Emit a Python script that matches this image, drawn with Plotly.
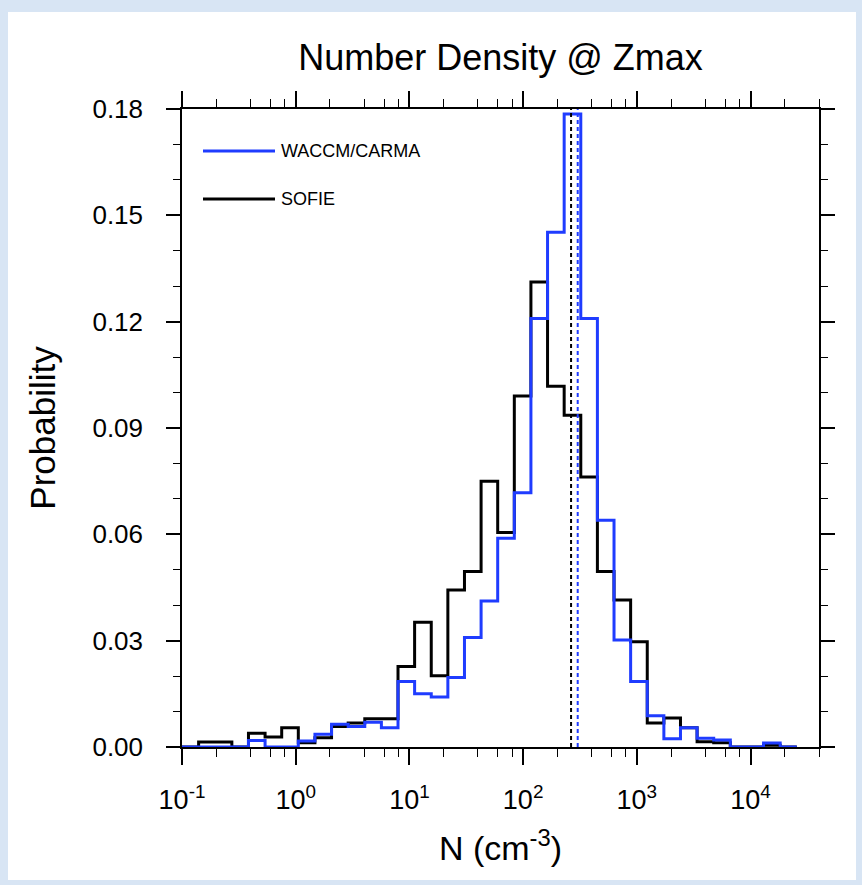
import plotly.graph_objects as go

# ---- data ----
bin_edges = [0.1, 0.14, 0.196, 0.2744, 0.3842, 0.5378, 0.753, 1.054, 1.476, 2.066,
             2.893, 4.05, 5.669, 7.937, 11.11, 15.56, 21.78, 30.49, 42.69, 59.76,
             83.67, 117.1, 164.0, 229.6, 321.4, 450.0, 630.0, 882.0, 1235, 1729,
             2420, 3388, 4743, 6641, 9297, 13016, 18223, 25512]

waccm_prob = [0.0, 0.0, 0.0, 0.0, 0.0018, 0.0, 0.0, 0.0017, 0.0036, 0.0064,
              0.0058, 0.0070, 0.0054, 0.0185, 0.0150, 0.0141, 0.0196, 0.0309, 0.0412, 0.0589,
              0.0717, 0.1209, 0.1452, 0.1786, 0.1209, 0.0640, 0.0302, 0.0185, 0.0088, 0.0023,
              0.0054, 0.0025, 0.0020, 0.0, 0.0, 0.0011, 0.0]

sofie_prob = [0.0, 0.0014, 0.0014, 0.0, 0.0039, 0.0028, 0.0054, 0.0012, 0.0026, 0.0058,
              0.0068, 0.0080, 0.0080, 0.0227, 0.0352, 0.0201, 0.0443, 0.0495, 0.0750, 0.0605,
              0.0990, 0.1312, 0.1018, 0.0936, 0.0762, 0.0495, 0.0415, 0.0297, 0.0068, 0.0082,
              0.0054, 0.0015, 0.0012, 0.0, 0.0, 0.0005, 0.0]

median_waccm = 302
median_sofie = 264

series_names = ["WACCM/CARMA", "SOFIE"]
series_colors = ["#1f3cff", "#000000"]

x_tickvals = [0.1, 1, 10, 100, 1000, 10000]
x_ticktext = ["10<sup>-1</sup>", "10<sup>0</sup>", "10<sup>1</sup>",
              "10<sup>2</sup>", "10<sup>3</sup>", "10<sup>4</sup>"]
x_minor = [m * d for d in [0.1, 1, 10, 100, 1000, 10000] for m in (2, 4, 6, 8)]
y_tickvals = [0.0, 0.03, 0.06, 0.09, 0.12, 0.15, 0.18]
y_max = 0.18

FONT = "Liberation Sans, Arial, Helvetica, sans-serif"

fig = go.Figure()

# SOFIE (black) step histogram
fig.add_trace(go.Scatter(
    x=bin_edges, y=sofie_prob + [sofie_prob[-1]], mode="lines",
    line=dict(color=series_colors[1], width=3, shape="hv"),
    name=series_names[1], showlegend=False))

# WACCM/CARMA (blue) step histogram
fig.add_trace(go.Scatter(
    x=bin_edges, y=waccm_prob + [waccm_prob[-1]], mode="lines",
    line=dict(color=series_colors[0], width=3, shape="hv"),
    name=series_names[0], showlegend=False))

# median lines (dotted)
fig.add_trace(go.Scatter(
    x=[median_sofie, median_sofie], y=[0, y_max], mode="lines",
    line=dict(color=series_colors[1], width=2, dash="4px,3px"), showlegend=False))
fig.add_trace(go.Scatter(
    x=[median_waccm, median_waccm], y=[0, y_max], mode="lines",
    line=dict(color=series_colors[0], width=2, dash="4px,3px"), showlegend=False))

W, H = 862, 885
ml, mr, mt, mb = 182, 43, 109, 138
pw, ph = W - ml - mr, H - mt - mb

def px_x(p):
    return (p - ml) / pw

def px_y(p):
    return (H - mb - p) / ph

shapes = [
    # white page on the light-blue background
    dict(type="rect", xref="paper", yref="paper", layer="below",
         x0=px_x(8), x1=px_x(856), y0=px_y(880), y1=px_y(12),
         fillcolor="white", line=dict(width=0)),
]
annotations = []
# manual legend
for i, (name, col) in enumerate(zip(series_names, series_colors)):
    yy = px_y(151 + i * 48)
    shapes.append(dict(type="line", xref="paper", yref="paper",
                       x0=px_x(203), x1=px_x(275), y0=yy, y1=yy,
                       line=dict(color=col, width=3)))
    annotations.append(dict(text=name, xref="paper", yref="paper",
                            x=px_x(279), y=yy, xanchor="left", yanchor="middle",
                            showarrow=False, font=dict(size=18, color="black", family=FONT)))

fig.update_layout(
    width=W, height=H,
    margin=dict(l=ml, r=mr, t=mt, b=mb),
    paper_bgcolor="#d8e5f4",
    plot_bgcolor="white",
    font=dict(family=FONT, color="black"),
    title=dict(text="Number Density @ Zmax", x=0.5, xref="paper", xanchor="center",
               y=1 - 57 / H, yref="container", yanchor="middle",
               font=dict(size=36, color="black", family=FONT)),
    shapes=shapes,
    annotations=annotations,
    showlegend=False,
)

fig.update_xaxes(
    type="log", range=[-1, 4.60206],
    tickmode="array", tickvals=x_tickvals, ticktext=x_ticktext,
    ticks="outside", ticklen=16, tickwidth=1.5, tickcolor="black",
    tickfont=dict(size=27, family=FONT, color="black"),
    showline=True, linecolor="black", linewidth=1.5, mirror="ticks",
    showgrid=False, zeroline=False,
    minor=dict(tickmode="array", tickvals=x_minor, ticks="outside", ticklen=8,
               tickwidth=1, tickcolor="black", showgrid=False),
    title=dict(text="N (cm<sup>-3</sup>)", font=dict(size=34, family=FONT, color="black"),
               standoff=22),
    ticklabelstandoff=12,
)

fig.update_yaxes(
    range=[0, y_max],
    tickmode="array", tickvals=y_tickvals, tickformat=".2f",
    ticks="outside", ticklen=14, tickwidth=1.5, tickcolor="black",
    tickfont=dict(size=26, family=FONT, color="black"),
    showline=True, linecolor="black", linewidth=1.5, mirror="ticks",
    showgrid=False, zeroline=False,
    minor=dict(dtick=0.01, ticks="outside", ticklen=7, tickwidth=1,
               tickcolor="black", showgrid=False),
    title=dict(text="Probability", font=dict(size=35, family=FONT, color="black"),
               standoff=26),
    ticklabelstandoff=18,
)

fig.write_html("out.html")
